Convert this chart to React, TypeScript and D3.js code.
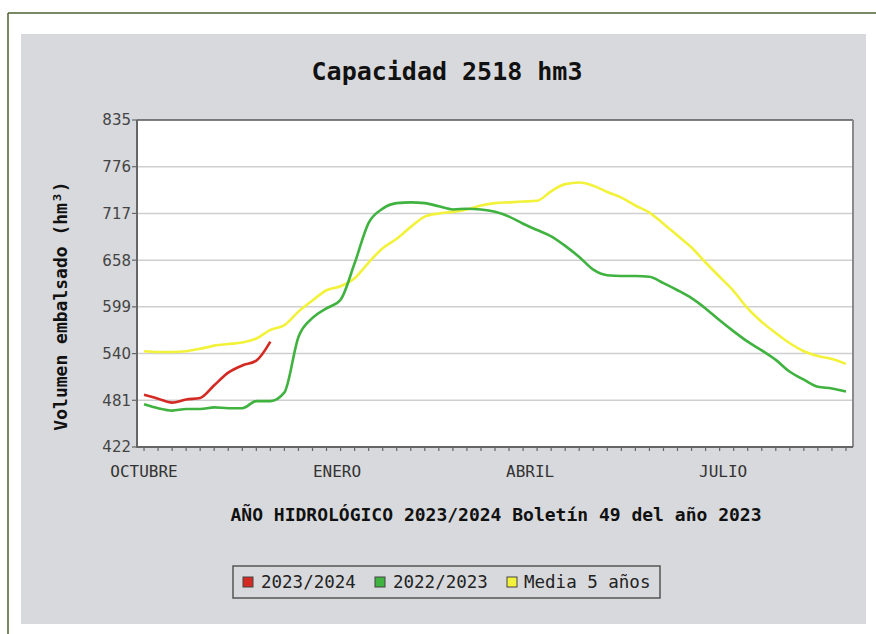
import React from "react";
import * as d3 from "d3";

const title = "Capacidad 2518 hm3";
const xTitle = "AÑO HIDROLÓGICO 2023/2024 Boletín 49 del año 2023";
const yTitle = "Volumen embalsado (hm³)";

const weeks = d3.range(1, 52); // 51 weekly categories
const yTicks = [422, 481, 540, 599, 658, 717, 776, 835];
const monthLabels = ["OCTUBRE", "ENERO", "ABRIL", "JULIO"];
const monthPos = [0, 13.75, 27.5, 41.25]; // in week-index units

const serie2023 = [488, 483, 478, 482, 484, 500, 516, 525, 531, 555];
const serie2022 = [
  476, 471, 468, 470, 470, 472, 471, 471, 480, 480,
  491, 561, 585, 597, 608, 654, 705, 723, 730, 731,
  730, 726, 722, 723, 722, 719, 713, 704, 696, 688,
  676, 662, 646, 639, 638, 638, 637, 629, 620, 610,
  597, 582, 568, 555, 544, 532, 517, 507, 498, 496, 492,
];
const media5 = [
  543, 542, 542, 543, 546, 550, 552, 554, 559, 570,
  576, 593, 607, 620, 625, 635, 655, 673, 685, 700,
  713, 717, 719, 722, 727, 730, 731, 732, 733, 745,
  754, 756, 752, 744, 737, 727, 718, 704, 689, 674,
  655, 637, 619, 597, 580, 566, 553, 543, 537, 533, 527,
];

const seriesList = [
  { name: "2023/2024", color: "#d42a24", values: serie2023 },
  { name: "2022/2023", color: "#3fb23f", values: serie2022 },
  { name: "Media 5 años", color: "#f2f23a", values: media5 },
];
const drawOrder = [2, 1, 0];

const W = 876;
const H = 634;
const plot = { left: 137, right: 853, top: 120, bottom: 447 };
const mono = "'DejaVu Sans Mono', monospace";
const sans = "'DejaVu Sans', sans-serif";

export default function App() {
  const xb = d3
    .scaleBand<number>()
    .domain(weeks)
    .range([plot.left, plot.right])
    .padding(0);
  const bw = xb.bandwidth();
  const xc = (i: number) => (xb(weeks[0]) as number) + bw / 2 + i * bw;
  const y = d3.scaleLinear().domain([422, 835]).range([plot.bottom, plot.top]);
  const line = d3
    .line<number>()
    .x((_, i) => xc(i))
    .y((v) => y(v))
    .curve(d3.curveMonotoneX);

  const legendItems = [
    { x: 243, tx: 261 },
    { x: 375, tx: 393 },
    { x: 507, tx: 524 },
  ];

  return (
    <div style={{ position: "absolute", left: 0, top: 0 }}>
      <svg width={W} height={H} style={{ display: "block" }}>
        <rect x={0} y={0} width={W} height={H} fill="#ffffff" />
        <line x1={8} y1={13} x2={W} y2={13} stroke="#4e6130" strokeWidth={1.5} />
        <line x1={8} y1={13} x2={8} y2={H} stroke="#4e6130" strokeWidth={1.5} />
        <rect x={21} y={34} width={845} height={590} fill="#d8d9dc" />

        <text
          x={447}
          y={80}
          textAnchor="middle"
          fontFamily={mono}
          fontWeight="bold"
          fontSize={25}
          fill="#111"
        >
          {title}
        </text>

        <rect
          x={plot.left}
          y={plot.top}
          width={plot.right - plot.left}
          height={plot.bottom - plot.top}
          fill="#ffffff"
        />
        {yTicks.slice(1, -1).map((t) => (
          <line
            key={t}
            x1={plot.left}
            x2={plot.right}
            y1={y(t)}
            y2={y(t)}
            stroke="#cfcfcf"
            strokeWidth={1.5}
          />
        ))}

        {drawOrder.map((k) => (
          <path
            key={seriesList[k].name}
            d={line(seriesList[k].values) || ""}
            fill="none"
            stroke={seriesList[k].color}
            strokeWidth={2.6}
            strokeLinejoin="round"
          />
        ))}

        {/* frame */}
        <line x1={plot.left} x2={plot.right} y1={plot.top} y2={plot.top} stroke="#555" strokeWidth={1.5} />
        <line x1={plot.right} x2={plot.right} y1={plot.top} y2={plot.bottom} stroke="#8a8a8a" strokeWidth={2} />
        <line x1={plot.left} x2={plot.left} y1={plot.top} y2={plot.bottom + 1} stroke="#666" strokeWidth={2} />
        <line x1={plot.left} x2={plot.right} y1={plot.bottom} y2={plot.bottom} stroke="#666" strokeWidth={2} />

        {yTicks.map((t) => (
          <g key={t}>
            <line x1={plot.left - 5} x2={plot.left} y1={y(t)} y2={y(t)} stroke="#666" strokeWidth={1.2} />
            <text
              x={plot.left - 6}
              y={y(t)}
              dy="0.36em"
              textAnchor="end"
              fontFamily={sans}
              fontSize={15}
              fill="#444"
            >
              {t}
            </text>
          </g>
        ))}

        {weeks.map((w, i) => (
          <line
            key={w}
            x1={xc(i)}
            x2={xc(i)}
            y1={plot.bottom}
            y2={plot.bottom + 4}
            stroke="#666"
            strokeWidth={1.2}
          />
        ))}
        {monthLabels.map((m, i) => (
          <text
            key={m}
            x={xc(monthPos[i])}
            y={477}
            textAnchor="middle"
            fontFamily={mono}
            fontSize={16}
            fill="#333"
          >
            {m}
          </text>
        ))}

        <text
          x={496}
          y={521}
          textAnchor="middle"
          fontFamily={mono}
          fontWeight="bold"
          fontSize={18}
          fill="#111"
        >
          {xTitle}
        </text>

        <text
          transform="translate(67, 306) rotate(-90)"
          textAnchor="middle"
          fontFamily={mono}
          fontWeight="bold"
          fontSize={18}
          fill="#111"
        >
          {yTitle}
        </text>

        <rect x={233} y={566} width={427} height={32} fill="#d8d9dc" stroke="#555" strokeWidth={1.5} />
        {seriesList.map((s, i) => (
          <g key={s.name}>
            <rect
              x={legendItems[i].x}
              y={577}
              width={10}
              height={10}
              fill={s.color}
              stroke="#444"
              strokeWidth={1}
            />
            <text
              x={legendItems[i].tx}
              y={588}
              fontFamily={mono}
              fontSize={17.5}
              fill="#222"
            >
              {s.name}
            </text>
          </g>
        ))}
      </svg>
    </div>
  );
}
